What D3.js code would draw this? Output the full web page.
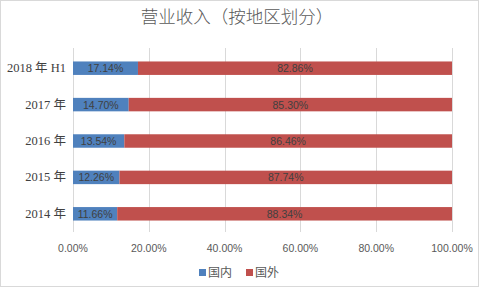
<!DOCTYPE html>
<html lang="zh-CN">
<head>
<meta charset="utf-8">
<script src="https://d3js.org/d3.v7.min.js"></script>
<style>
  body { margin: 0; background: #fff; }
  text { fill: #595959; }
</style>
</head>
<body>
<svg width="479" height="287"></svg>
<script>
var categories = ["2018 年 H1", "2017 年", "2016 年", "2015 年", "2014 年"];
var domestic = [17.14, 14.70, 13.54, 12.26, 11.66];
var overseas = [82.86, 85.30, 86.46, 87.74, 88.34];
var seriesNames = ["国内", "国外"];
var ticks = [0, 20, 40, 60, 80, 100];

var colors = ["#4F81BD", "#C0504D"];
var cjk = "'Noto Sans CJK SC', sans-serif";

var svg = d3.select("svg"),
    width = +svg.attr("width"),
    height = +svg.attr("height");

svg.append("rect")
    .attr("x", 0.5).attr("y", 0.5)
    .attr("width", width - 1).attr("height", height - 1)
    .attr("fill", "#fff").attr("stroke", "#d9d9d9");

var x = d3.scaleLinear().domain([0, 100]).range([73, 452]);
var y = d3.scaleBand().domain(categories).range([50, 232]).paddingInner(0.63).paddingOuter(0.315);

// gridlines
svg.append("g")
    .selectAll("line")
    .data(ticks)
    .enter().append("line")
    .attr("x1", d => Math.round(x(d)) + 0.5)
    .attr("x2", d => Math.round(x(d)) + 0.5)
    .attr("y1", 48).attr("y2", 232)
    .attr("stroke", "#d9d9d9");

// tick labels
svg.append("g")
    .selectAll("text")
    .data(ticks)
    .enter().append("text")
    .attr("x", d => x(d))
    .attr("y", 252)
    .attr("text-anchor", "middle")
    .style("font", "10.5px 'Liberation Sans', sans-serif")
    .text(d => d.toFixed(2) + "%");

// category labels
svg.append("g")
    .selectAll("text")
    .data(categories)
    .enter().append("text")
    .attr("x", 66)
    .attr("y", d => y(d) + y.bandwidth() / 2 + 4)
    .attr("text-anchor", "end")
    .style("font", "12.5px 'Liberation Serif', " + cjk)
    .style("fill", "#404040")
    .text(d => d);

var rows = categories.map((c, i) => ({ cat: c, a: domestic[i], b: overseas[i] }));

var bars = svg.append("g").selectAll("g").data(rows).enter().append("g");

bars.append("rect")
    .attr("x", d => x(0))
    .attr("y", d => y(d.cat))
    .attr("width", d => x(d.a) - x(0))
    .attr("height", y.bandwidth())
    .attr("fill", colors[0]);

bars.append("rect")
    .attr("x", d => x(d.a))
    .attr("y", d => y(d.cat))
    .attr("width", d => x(d.a + d.b) - x(d.a))
    .attr("height", y.bandwidth())
    .attr("fill", colors[1]);

bars.append("text")
    .attr("x", d => (x(0) + x(d.a)) / 2)
    .attr("y", d => y(d.cat) + y.bandwidth() / 2 + 4)
    .attr("text-anchor", "middle")
    .style("font", "10.5px 'Liberation Sans', sans-serif")
    .style("fill", "#404040")
    .text(d => d.a.toFixed(2) + "%");

bars.append("text")
    .attr("x", d => (x(d.a) + x(d.a + d.b)) / 2)
    .attr("y", d => y(d.cat) + y.bandwidth() / 2 + 4)
    .attr("text-anchor", "middle")
    .style("font", "10.5px 'Liberation Sans', sans-serif")
    .style("fill", "#404040")
    .text(d => d.b.toFixed(2) + "%");

// title
svg.append("text")
    .attr("x", 237)
    .attr("y", 23)
    .attr("text-anchor", "middle")
    .style("font", "17.5px " + cjk)
    .style("font-weight", "300")
    .text("营业收入（按地区划分）");

// legend
var legendX = [199, 246];
var lg = svg.append("g").selectAll("g").data(seriesNames).enter().append("g")
    .attr("transform", (d, i) => "translate(" + legendX[i] + ",267)");
lg.append("rect").attr("width", 7).attr("height", 7).attr("y", 2).attr("fill", (d, i) => colors[i]);
lg.append("text").attr("x", 9).attr("y", 10)
    .style("font", "12px " + cjk)
    .text(d => d);
</script>
</body>
</html>
